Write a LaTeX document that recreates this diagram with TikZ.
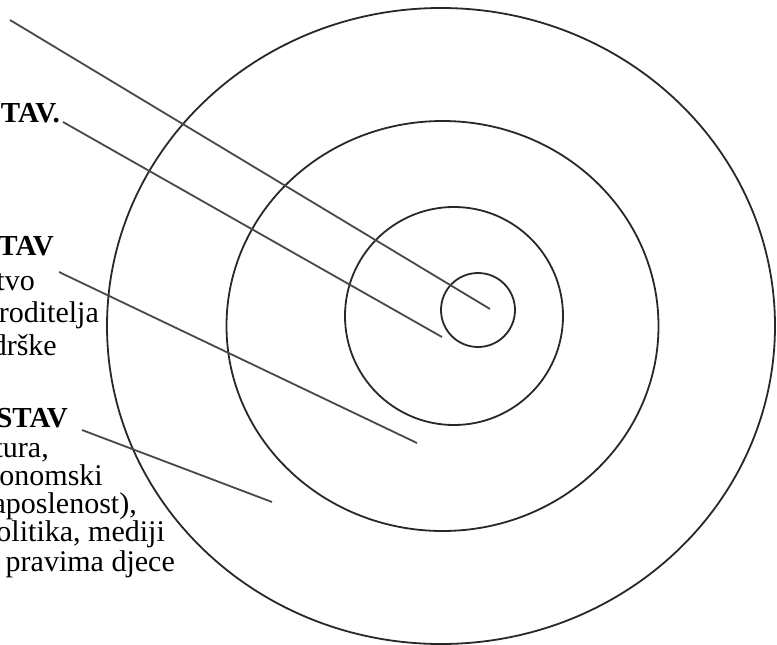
\documentclass[tikz,border=0pt]{standalone}
\usepackage{fontspec}
\setmainfont{Liberation Serif}
\usetikzlibrary{positioning}
\definecolor{inkgray}{RGB}{40,40,40}

\begin{document}
\begin{tikzpicture}[x=1pt, y=-1pt,
    ring/.style={draw=inkgray, line width=1.8pt},
    pointer/.style={draw=inkgray!85, line width=1.8pt},
    lbl/.style={anchor=base east, inner sep=0pt, font=\fontsize{30}{32}\selectfont},
    head/.style={lbl, font=\fontsize{29}{32}\selectfont\bfseries}]
    \useasboundingbox (0,0) rectangle (777,645);
    \clip (0,0) rectangle (777,645);

    % circle centres
    \coordinate (c1) at (478,310);
    \coordinate (c2) at (454,316);
    \coordinate (c3) at (442.5,326);
    \coordinate (c4) at (441,326);

    \draw[ring] (c1) circle [radius=37];
    \draw[ring] (c2) circle [radius=109];
    \draw[ring] (c3) ellipse [x radius=216, y radius=205];
    \draw[ring] (c4) ellipse [x radius=334, y radius=318];

    % labels (cut at the left edge)
    \node[head] (top) at (60,122) {TAV.};

    \node[head] (mid) at (54,255) {TAV};
    \node[lbl] (mid1) at (35,290) {tvo};
    \node[lbl] (mid2) at (99,322) {roditelja};
    \node[lbl] (mid3) at (57,355) {drške};

    \node[head] (low) at (68,427) {STAV};
    \node[lbl] (low1) at (49,457) {tura,};
    \node[lbl] (low2) at (103,485) {onomski};
    \node[lbl] (low3) at (137,513) {aposlenost),};
    \node[lbl] (low4) at (165,541) {olitika, mediji};
    \node[lbl] (low5) at (175,571) {pravima djece};

    % pointers
    \coordinate (p1) at (10,20);
    \coordinate (e1) at (490,309);
    \coordinate (p2) at (63,122);
    \coordinate (e2) at (442,337);
    \coordinate (p3) at (59,272);
    \coordinate (e3) at (417,443);
    \coordinate (p4) at (82,430);
    \coordinate (e4) at (272,502);

    \draw[pointer] (p1) -- (e1);
    \draw[pointer] (p2) -- (e2);
    \draw[pointer] (p3) -- (e3);
    \draw[pointer] (p4) -- (e4);
\end{tikzpicture}
\end{document}
